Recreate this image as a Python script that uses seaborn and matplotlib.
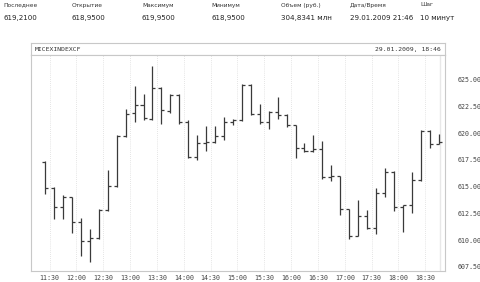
import matplotlib
matplotlib.use("Agg")
import matplotlib.pyplot as plt
import seaborn as sns
import pandas as pd

# ---- data ----
header_labels = ["Последнее", "Открытие", "Максимум", "Минимум", "Объем (руб.)", "Дата/Время", "Шаг"]
header_values = ["619,2100", "618,9500", "619,9500", "618,9500", "304,8341 млн", "29.01.2009 21:46", "10 минут"]

# bar centres, minutes after 11:00 (10-minute bars)
bar_minutes = [25, 35, 45, 55, 65, 75, 85, 95, 105, 115, 125, 135, 145, 155, 165,
               175, 185, 195, 205, 215, 225, 235, 245, 255, 265, 275, 285, 295, 305,
               315, 325, 335, 345, 355, 365, 375, 385, 395, 405, 415, 425, 435, 445,
               455, 465]
opens = [617.3, 614.9, 613.1, 614.0, 611.7, 609.9, 610.2, 612.8, 615.1, 619.7,
         621.9, 622.6, 621.3, 624.2, 622.1, 623.6, 621.0, 617.8, 619.1, 619.2,
         619.7, 621.0, 621.2, 624.5, 621.8, 621.0, 622.0, 621.7, 620.8, 618.6,
         618.3, 618.5, 615.9, 616.0, 612.9, 610.4, 612.3, 611.1, 614.4, 616.4,
         613.1, 613.3, 615.6, 620.2, 618.95]
highs = [617.4, 615.0, 614.2, 614.0, 612.1, 611.0, 612.9, 616.6, 619.8, 622.3,
         624.4, 623.7, 626.3, 624.3, 623.7, 623.7, 621.2, 619.8, 620.7, 620.7,
         621.5, 621.3, 624.6, 624.6, 622.7, 622.1, 623.4, 621.8, 620.8, 619.1,
         619.8, 619.3, 617.0, 616.0, 612.9, 613.8, 612.8, 614.9, 616.7, 616.5,
         613.3, 616.4, 620.3, 620.3, 619.95]
lows = [614.3, 612.0, 612.0, 610.7, 608.5, 608.0, 610.1, 612.7, 615.0, 619.6,
        621.0, 621.2, 621.2, 620.9, 621.9, 620.9, 617.7, 617.5, 618.3, 619.1,
        619.4, 620.8, 621.1, 621.7, 620.9, 620.4, 621.3, 620.6, 617.7, 618.2,
        618.2, 615.7, 615.5, 612.4, 610.1, 610.4, 611.0, 610.6, 614.0, 612.7,
        610.8, 612.5, 615.5, 618.6, 618.95]
closes = [614.9, 613.1, 614.0, 611.7, 609.9, 610.2, 612.8, 615.1, 619.7, 621.8,
          622.6, 621.4, 624.2, 622.2, 623.6, 621.0, 617.8, 619.1, 619.2, 619.7,
          621.0, 621.2, 624.5, 621.8, 621.0, 622.0, 621.7, 620.8, 618.6, 618.3,
          618.5, 615.9, 616.0, 612.9, 610.4, 612.3, 611.1, 614.4, 616.4, 613.1,
          613.3, 615.6, 620.2, 619.0, 619.21]

xtick_minutes = [30, 60, 90, 120, 150, 180, 210, 240, 270, 300, 330, 360, 390, 420, 450]
xtick_labels = ["11:30", "12:00", "12:30", "13:00", "13:30", "14:00", "14:30", "15:00",
                "15:30", "16:00", "16:30", "17:00", "17:30", "18:00", "18:30"]
ytick_values = [607.5, 610.0, 612.5, 615.0, 617.5, 620.0, 622.5, 625.0]
cursor_minute = 466.5
ticker = "MICEXINDEXCF"
cursor_label = "29.01.2009, 18:46"

df = pd.DataFrame({"t": bar_minutes, "open": opens, "high": highs, "low": lows, "close": closes})

# ---- style ----
sns.set_theme(style="white")
plt.rcParams["font.family"] = ["DejaVu Sans"]

W, H = 480, 282
fig = plt.figure(figsize=(W / 100, H / 100), dpi=100)
fig.patch.set_facecolor("white")

def fx(px):
    return px / W

def fy(py):
    return 1 - py / H

# header
label_x = [3, 72, 142, 211, 281, 350, 420]
for x, lab, val in zip(label_x, header_labels, header_values):
    fig.text(fx(x), fy(5), lab, fontsize=4.2, color="#333333", va="center", ha="left")
    fig.text(fx(x), fy(18), val, fontsize=5.1, color="#222222", va="center", ha="left")

# title band
left_px, right_px = 31, 445
band = fig.add_axes([fx(left_px), fy(55), fx(right_px - left_px), (55 - 43) / H])
band.set_xticks([]); band.set_yticks([])
for s in band.spines.values():
    s.set_color("#c8c8c8"); s.set_linewidth(0.8)
band.text(0.008, 0.45, ticker, fontsize=4.6, family="DejaVu Sans Mono", color="#333333",
          va="center", ha="left", transform=band.transAxes)
band.text(0.99, 0.45, cursor_label, fontsize=4.6, family="DejaVu Sans Mono", color="#333333",
          va="center", ha="right", transform=band.transAxes)

# main plot
ax = fig.add_axes([fx(left_px), fy(270.7), fx(right_px - left_px), (270.7 - 55) / H])
for s in ax.spines.values():
    s.set_color("#c8c8c8"); s.set_linewidth(0.8)

for xv in xtick_minutes:
    ax.axvline(xv, color="#dcdcdc", lw=0.6, ls=(0, (1, 1.5)), zorder=0)

col = "#3a3a3a"
tw = 3.4
ax.vlines(df["t"], df["low"], df["high"], color=col, lw=0.9)
ax.hlines(df["open"], df["t"] - tw, df["t"], color=col, lw=0.9)
ax.hlines(df["close"], df["t"], df["t"] + tw, color=col, lw=0.9)
sns.lineplot(x=[cursor_minute, cursor_minute], y=[607.0, 628.0], ax=ax,
             color="#8c8c8c", lw=1.4, zorder=3)

ax.set_xlim(9.2, 472.1)
ax.set_ylim(607.15, 627.3)
ax.set_xticks(xtick_minutes)
ax.set_xticklabels(xtick_labels, family="DejaVu Sans Mono", fontsize=4.8, color="#444444")
ax.yaxis.tick_right()
ax.set_yticks(ytick_values)
ax.set_yticklabels([f"{v:.2f}" for v in ytick_values], family="DejaVu Sans Mono",
                   fontsize=4.8, color="#444444")
ax.tick_params(axis="both", length=0, pad=3)
ax.tick_params(axis="y", pad=9)
ax.set_xlabel(""); ax.set_ylabel("")
ax.grid(False)

fig.savefig("out.png", dpi=100, facecolor="white")
